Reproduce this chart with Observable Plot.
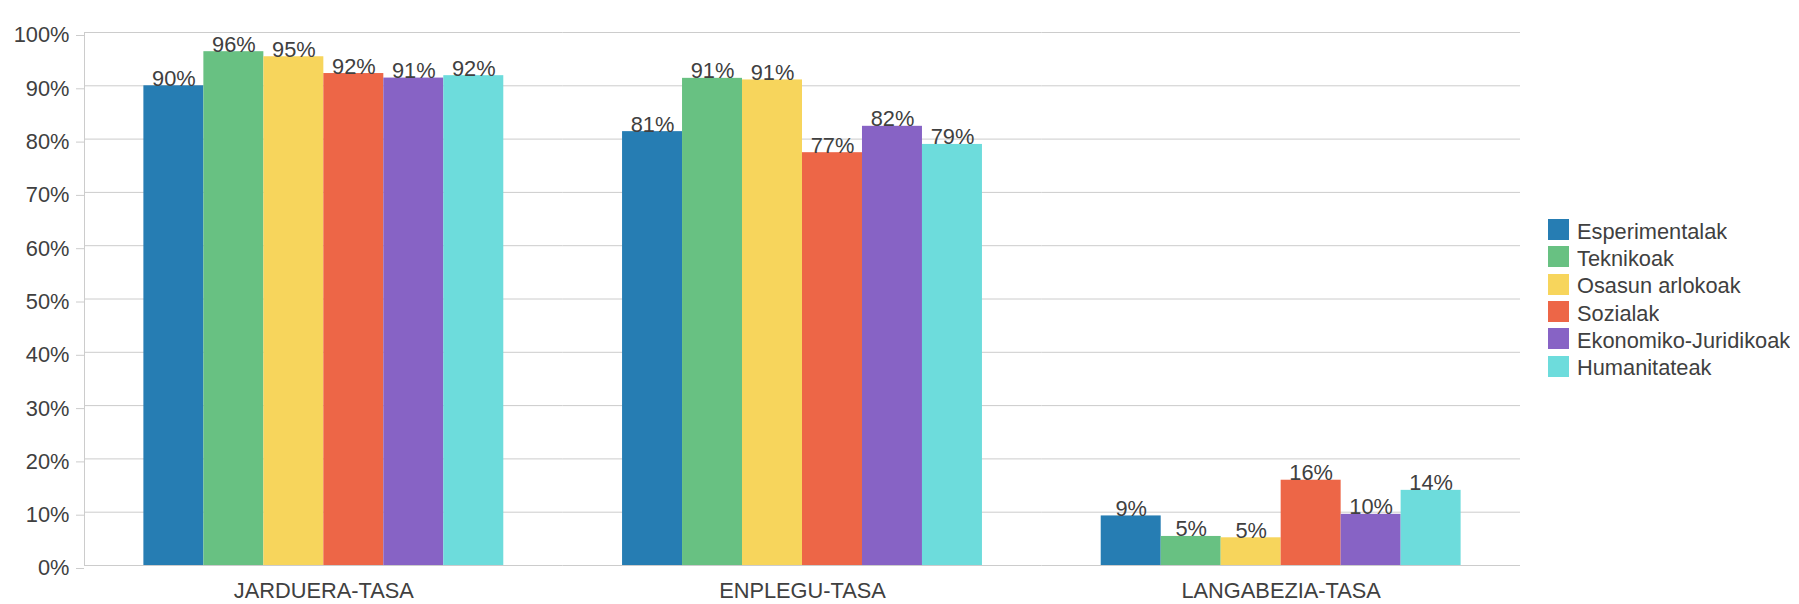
<!DOCTYPE html>
<html><head><meta charset="utf-8">
<script src="https://cdn.jsdelivr.net/npm/d3@7"></script>
<script src="https://cdn.jsdelivr.net/npm/@observablehq/plot@0.6"></script>
<style>
html,body{margin:0;padding:0;background:#fff;}
#wrap{position:relative;width:1799px;height:604px;font-family:"Liberation Sans",Arial,sans-serif;}
#chart{position:absolute;left:0;top:0;}
#legend{position:absolute;left:1548px;top:216px;width:250px;}
.lg-swatches{font-family:"Liberation Sans",Arial,sans-serif !important;font-size:21.8px !important;color:#404040;margin:0 !important;}
.lg-swatch{height:27.3px;padding-bottom:0 !important;}
.lg-swatch > svg{margin-right:8px !important;}
.lg-swatch-label{position:relative;top:2px;}
</style></head><body>
<div id="wrap"><div id="chart"></div><div id="legend"></div></div>
<script>
const categories = ["JARDUERA-TASA", "ENPLEGU-TASA", "LANGABEZIA-TASA"];
const series = ["Esperimentalak", "Teknikoak", "Osasun arlokoak", "Sozialak", "Ekonomiko-Juridikoak", "Humanitateak"];
const colors = ["#267db3", "#68c182", "#f7d55c", "#ed6647", "#8763c5", "#6ddcdc"];
// values per series, in category order
const esperimentalak = [90.0, 81.4, 9.3];
const teknikoak = [96.4, 91.4, 5.45];
const osasunArlokoak = [95.45, 91.1, 5.2];
const sozialak = [92.3, 77.45, 16.0];
const ekonomikoJuridikoak = [91.45, 82.4, 9.6];
const humanitateak = [91.9, 79.0, 14.1];
const yTicks = [0, 10, 20, 30, 40, 50, 60, 70, 80, 90, 100];

const seriesValues = [esperimentalak, teknikoak, osasunArlokoak, sozialak, ekonomikoJuridikoak, humanitateak];
const data = [];
series.forEach((s, i) => seriesValues[i].forEach((v, j) => data.push({category: categories[j], series: s, value: v})));

const FONT = '"Liberation Sans", Arial, sans-serif';
const TXT = "#404040";
const GRID = "#cccccc";
const FS = 21.8;

const plot = Plot.plot({
  width: 1530, height: 604,
  marginLeft: 84, marginRight: 10, marginTop: 32, marginBottom: 39,
  style: {fontFamily: FONT, fontSize: FS + "px", color: TXT, background: "#fff"},
  fx: {domain: categories, padding: 0, round: false, label: null},
  x: {domain: series, paddingInner: 0, paddingOuter: 0.99, round: false, axis: null},
  y: {domain: [0, 100], label: null},
  color: {domain: series, range: colors},
  marks: [
    Plot.gridY(yTicks, {stroke: GRID, strokeOpacity: 1}),
    Plot.frame({anchor: "left", facet: "super", stroke: GRID}),
    Plot.axisY(yTicks, {tickSize: 8, tickPadding: 7, dy: 3, tickFormat: d => d + "%", stroke: GRID, fill: TXT, fontSize: FS, label: null}),
    Plot.axisFx({anchor: "bottom", tickSize: 0, tickPadding: 17, fontSize: FS, label: null, fill: TXT}),
    Plot.barY(data, {fx: "category", x: "series", y: "value", fill: "series"}),
    Plot.text(data, {fx: "category", x: "series", y: "value", text: d => Math.round(d.value) + "%", lineAnchor: "bottom", fill: TXT, fontSize: FS})
  ]
});
document.getElementById("chart").appendChild(plot);

const legend = Plot.legend({color: {domain: series, range: colors}, columns: 1, swatchSize: 21, className: "lg"});
document.getElementById("legend").appendChild(legend);
</script>
</body></html>
